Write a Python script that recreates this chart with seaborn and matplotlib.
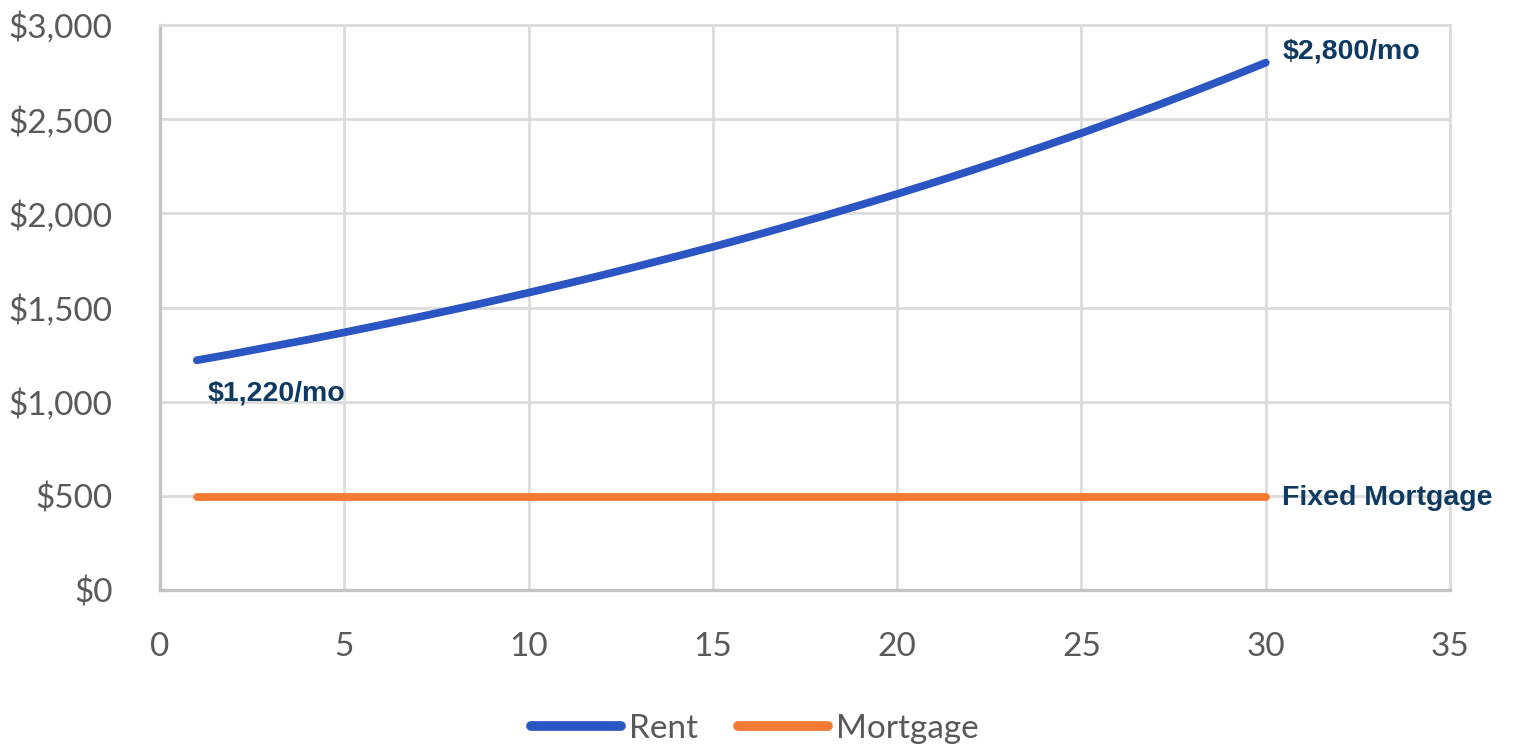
import matplotlib
matplotlib.use("Agg")
import matplotlib.pyplot as plt
from matplotlib.ticker import FuncFormatter, MultipleLocator
import seaborn as sns
import pandas as pd

# Monthly payment by year of ownership
years = list(range(1, 31))
rent = [1220, 1255, 1292, 1329, 1368, 1408, 1449, 1491, 1534, 1579,
        1625, 1672, 1721, 1771, 1822, 1875, 1930, 1986, 2044, 2103,
        2164, 2227, 2292, 2358, 2426, 2497, 2569, 2644, 2721, 2800]
mortgage = [495] * 30
series_names = ["Rent", "Mortgage"]
palette = {"Rent": "#2B55C3", "Mortgage": "#F47932"}

df = pd.DataFrame({
    "Year": years * 2,
    "Payment": rent + mortgage,
    "Series": [series_names[0]] * len(years) + [series_names[1]] * len(years),
})

sns.set_theme(style="white")
plt.rcParams["font.family"] = ["Lato", "DejaVu Sans"]

fig = plt.figure(figsize=(15.15, 7.46), dpi=100)
ax = fig.add_axes([0.1056, 0.209, 0.8515, 0.7575])

sns.lineplot(data=df, x="Year", y="Payment", hue="Series", palette=palette,
             linewidth=5.6, ax=ax, legend=True, zorder=3)
for ln in ax.get_lines():
    ln.set_solid_capstyle("round")

ax.set_xlim(0, 35)
ax.set_ylim(0, 3000)
ax.xaxis.set_major_locator(MultipleLocator(5))
ax.yaxis.set_major_locator(MultipleLocator(500))
ax.yaxis.set_major_formatter(FuncFormatter(lambda v, p: f"${v:,.0f}"))
ax.set_xlabel("")
ax.set_ylabel("")

grid_c = "#DCDCDC"
ax.grid(True, color=grid_c, linewidth=2.0, zorder=0)
ax.set_axisbelow(True)
for side in ["top", "right"]:
    ax.spines[side].set_color(grid_c)
    ax.spines[side].set_linewidth(2.0)
for side in ["left", "bottom"]:
    ax.spines[side].set_color("#C4C4C4")
    ax.spines[side].set_linewidth(2.4)

ax.tick_params(axis="both", length=0, labelsize=24, labelcolor="#595959")
ax.tick_params(axis="x", pad=30)
ax.tick_params(axis="y", pad=34)

# Value callouts
note_c = "#0E3A62"
note_font = dict(family=["Liberation Sans", "DejaVu Sans"], fontsize=20.5,
                 fontweight="bold", color=note_c)
ax.annotate(f"${rent[-1]:,}/mo", xy=(years[-1], rent[-1]), xytext=(12, 8),
            textcoords="offset points", ha="left", va="center", **note_font)
ax.annotate(f"${rent[0]:,}/mo", xy=(years[0], rent[0]), xytext=(8, -24),
            textcoords="offset points", ha="left", va="center", **note_font)
ax.annotate("Fixed Mortgage", xy=(years[-1], mortgage[-1]), xytext=(12, -1),
            textcoords="offset points", ha="left", va="center", **note_font)

leg = ax.legend(loc="center", bbox_to_anchor=(0.461, -0.246), ncol=2,
                frameon=False, fontsize=24, handlelength=2.7,
                handletextpad=0.25, columnspacing=1.2, labelcolor="#595959")
for h in leg.legend_handles:
    h.set_linewidth(7)
    h.set_solid_capstyle("round")

fig.savefig("out.png", dpi=100, facecolor="white")
